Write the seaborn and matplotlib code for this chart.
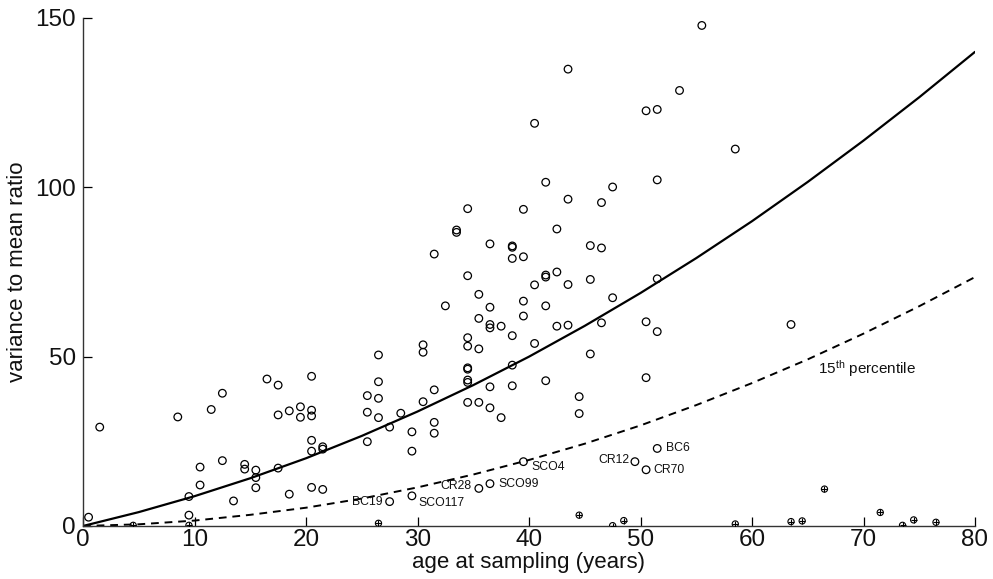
import matplotlib
matplotlib.use("Agg")
import matplotlib.pyplot as plt
import seaborn as sns
import pandas as pd

# ---- data ----
ages_open = [0.5, 1.5, 8.5, 11.5, 12.5, 16.5, 17.5, 20.5, 17.5, 18.5, 19.5, 19.5, 20.5, 20.5,
             26.5, 26.5, 25.5, 26.5, 25.5, 26.5, 27.5, 25.5, 20.5, 20.5, 21.5, 21.5, 17.5,
             14.5, 14.5, 15.5, 15.5, 15.5, 12.5, 10.5, 10.5, 9.5, 9.5, 13.5, 18.5, 20.5, 21.5,
             29.5, 29.5, 31.5, 31.5, 30.5, 31.5, 28.5, 34.5, 34.5, 34.5, 34.5, 34.5, 35.5,
             36.5, 36.5, 37.5, 38.5, 38.5, 41.5, 44.5, 44.5, 50.5,
             34.5, 39.5, 43.5, 46.5, 33.5, 33.5, 42.5, 36.5, 38.5, 38.5, 31.5, 38.5, 39.5,
             45.5, 46.5, 34.5, 41.5, 41.5, 42.5, 40.5, 43.5, 45.5, 51.5, 35.5, 47.5, 32.5,
             36.5, 39.5, 41.5, 35.5, 36.5, 36.5, 37.5, 39.5, 38.5, 42.5, 43.5, 46.5, 50.5,
             51.5, 34.5, 34.5, 35.5, 30.5, 30.5, 40.5, 45.5,
             55.5, 43.5, 53.5, 50.5, 51.5, 40.5, 41.5, 47.5, 51.5, 58.5, 63.5]
vmr_open = [2.6, 29.2, 32.2, 34.4, 39.2, 43.4, 41.6, 44.2, 32.8, 34.0, 35.2, 32.1, 34.2, 32.5,
            50.5, 42.6, 38.5, 37.7, 33.6, 32.0, 29.2, 24.9, 25.3, 22.1, 23.4, 22.7, 17.1,
            18.2, 16.8, 16.5, 14.3, 11.3, 19.3, 17.4, 12.1, 8.7, 3.2, 7.4, 9.4, 11.4, 10.8,
            27.8, 22.1, 30.6, 27.4, 36.7, 40.2, 33.3, 46.7, 46.3, 43.1, 42.4, 36.5, 36.5,
            41.1, 34.9, 32.0, 47.5, 41.4, 42.9, 38.2, 33.2, 43.8,
            93.7, 93.5, 96.5, 95.5, 87.4, 86.7, 87.7, 83.3, 82.7, 82.3, 80.3, 79.0, 79.5,
            82.8, 82.1, 73.9, 74.1, 73.5, 75.0, 71.2, 71.3, 72.8, 73.0, 68.4, 67.4, 65.0,
            64.6, 66.4, 65.0, 61.3, 59.5, 58.5, 59.0, 62.0, 56.2, 59.0, 59.3, 60.0, 60.3,
            57.4, 55.6, 53.1, 52.3, 53.5, 51.3, 53.9, 50.8,
            147.8, 134.9, 128.6, 122.6, 123.0, 118.9, 101.5, 100.1, 102.2, 111.3, 59.5]

label_names = ["BC19", "SCO117", "CR28", "SCO99", "SCO4", "CR12", "CR70", "BC6"]
label_ages = [27.5, 29.5, 35.5, 36.5, 39.5, 49.5, 50.5, 51.5]
label_vmr = [7.2, 8.9, 11.1, 12.5, 19.0, 19.0, 16.6, 22.9]

ages_cross = [4.5, 9.5, 26.5, 44.5, 47.5, 48.5, 58.5, 63.5, 64.5, 66.5, 71.5, 73.5, 74.5, 76.5]
vmr_cross = [0.2, 0.2, 0.8, 3.2, 0.1, 1.6, 0.6, 1.3, 1.5, 10.9, 4.0, 0.2, 1.8, 1.1]

curve_ages = [0, 5, 10, 15, 20, 25, 30, 35, 40, 45, 50, 55, 60, 65, 70, 75, 80]
curve_mean = [0, 4.1, 8.8, 14.1, 20.0, 26.6, 33.8, 41.6, 50.0, 59.1, 68.8, 79.1, 90.0,
              101.6, 113.8, 126.6, 140.0]
curve_p15 = [0, 0.5, 1.6, 3.3, 5.4, 8.1, 11.4, 15.2, 19.5, 24.3, 29.7, 35.7, 42.2, 49.2,
             56.8, 64.9, 73.5]

x_ticks = [0, 10, 20, 30, 40, 50, 60, 70, 80]
y_ticks = [0, 50, 100, 150]

# ---- layout / style (not data) ----
label_offsets = {  # (dx, dy) in points, horizontal alignment
    "BC19": (-5, 0, "right"), "SCO117": (4.5, -5, "left"), "CR28": (-5, 1.5, "right"),
    "SCO99": (6, 0, "left"), "SCO4": (6, -4, "left"), "CR12": (-4, 1.5, "right"),
    "CR70": (5, 0, "left"), "BC6": (6, 0, "left"),
}

sns.set_style("ticks")
plt.rcParams["font.family"] = ["Liberation Sans", "DejaVu Sans"]
plt.rcParams["mathtext.fontset"] = "custom"
plt.rcParams["mathtext.rm"] = "Liberation Sans"
plt.rcParams["mathtext.it"] = "Liberation Sans:italic"

fig = plt.figure(figsize=(9.93, 5.79), dpi=100)
ax = fig.add_axes([83 / 993, 1 - 526 / 579, (975 - 83) / 993, (526 - 18) / 579])

df_curve = pd.DataFrame({"age": curve_ages, "mean": curve_mean, "p15": curve_p15})
sns.lineplot(data=df_curve, x="age", y="mean", ax=ax, color="black", linewidth=1.6)
sns.lineplot(data=df_curve, x="age", y="p15", ax=ax, color="black", linewidth=1.4,
             linestyle=(0, (4, 3)))

df_open = pd.DataFrame({"age": ages_open + label_ages, "vmr": vmr_open + label_vmr})
sns.scatterplot(data=df_open, x="age", y="vmr", ax=ax, marker="o", s=30,
                facecolor="none", edgecolor="black", linewidth=0.9, zorder=3)

df_cross = pd.DataFrame({"age": ages_cross, "vmr": vmr_cross})
sns.scatterplot(data=df_cross, x="age", y="vmr", ax=ax, marker="o", s=20,
                facecolor="none", edgecolor="black", linewidth=0.8, zorder=3)
sns.scatterplot(data=df_cross, x="age", y="vmr", ax=ax, marker="+", s=20,
                color="black", linewidth=0.8, zorder=3)

for name, a, v in zip(label_names, label_ages, label_vmr):
    dx, dy, ha = label_offsets[name]
    ax.annotate(name, (a, v), xytext=(dx, dy), textcoords="offset points",
                ha=ha, va="center", fontsize=8.8, color="#111111")

ax.text(65.9, 46.6, r"15$^{\mathrm{th}}$ percentile", fontsize=11, ha="left", va="center",
        color="#111111")

ax.set_xlim(0, 80)
ax.set_ylim(0, 150)
ax.set_xticks(x_ticks)
ax.set_yticks(y_ticks)
ax.tick_params(direction="in", length=6.5, width=0.9, labelsize=17.5, color="black",
               labelcolor="#111111")
ax.tick_params(axis="x", pad=2)
ax.tick_params(axis="y", pad=5)
ax.set_xlabel("age at sampling (years)", fontsize=16, labelpad=1, color="#111111")
ax.set_ylabel("variance to mean ratio", fontsize=16, labelpad=5, color="#111111")
sns.despine(ax=ax)
for sp in ("left", "bottom"):
    ax.spines[sp].set_color("#333333")
    ax.spines[sp].set_linewidth(1.0)

fig.savefig("out.png", dpi=100)
